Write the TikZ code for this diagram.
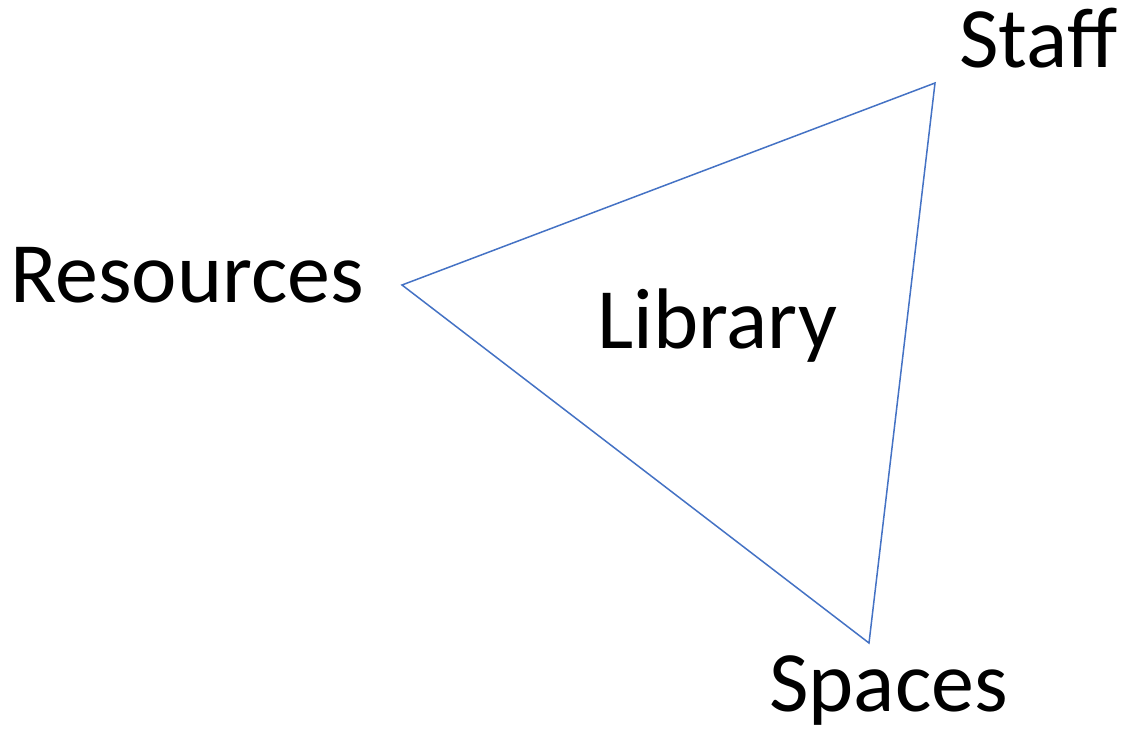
\documentclass[tikz,border=0pt]{standalone}
\usepackage{fontspec}
\setmainfont{Carlito}
\definecolor{edgeblue}{HTML}{4472C4}
\begin{document}
\begin{tikzpicture}[x=1pt,y=-1pt,
  lbl/.style={font=\fontsize{86}{100}\selectfont, inner sep=0pt, anchor=base west},
  edge/.style={draw=edgeblue, line width=1.5pt, line join=miter}]
\useasboundingbox (0,0) rectangle (1122,731);
\coordinate (res) at (402,285);
\coordinate (staff) at (935,83);
\coordinate (spaces) at (869,643);
\draw[edge] (res) -- (staff) -- (spaces) -- cycle;
\node[lbl] (tres) at (10,302) {Resources};
\node[lbl] (tstaff) at (959,67) {Staff};
\node[lbl] (tspaces) at (769,711) {Spaces};
\node[lbl] (tlib) at (597,348) {Library};
\end{tikzpicture}
\end{document}
